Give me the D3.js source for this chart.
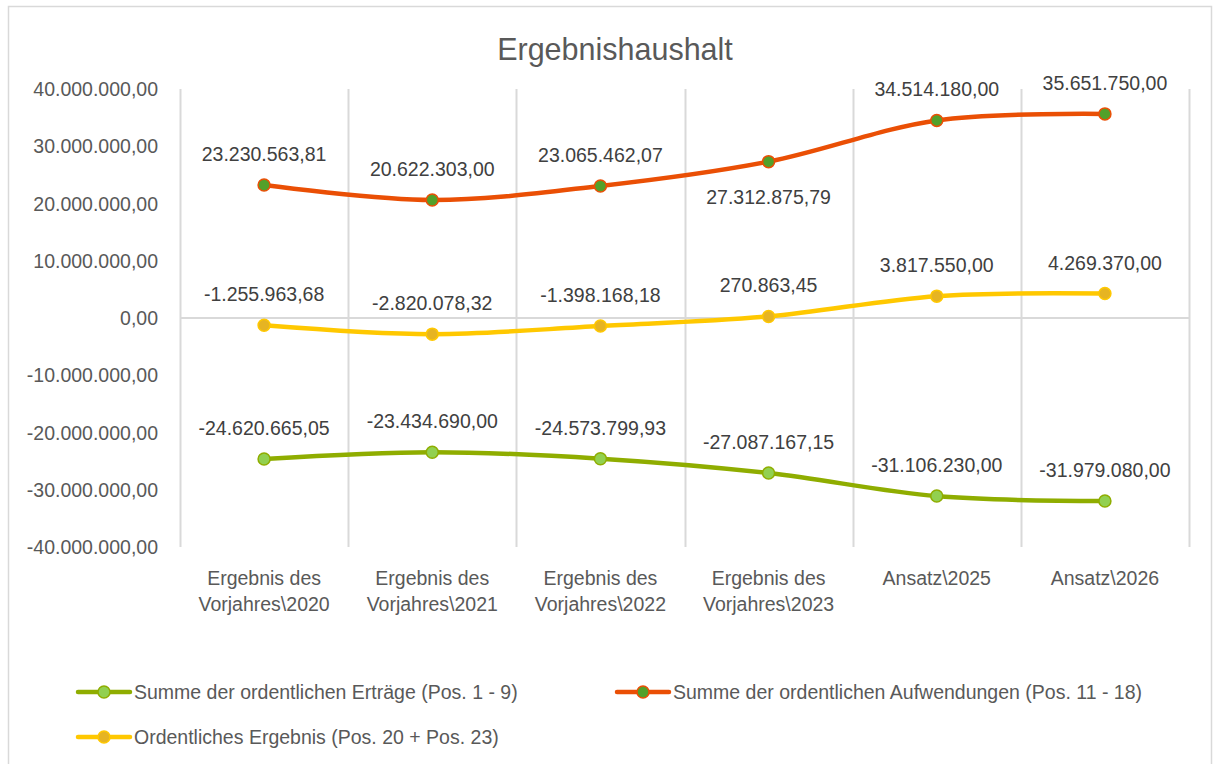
<!DOCTYPE html>
<html lang="de">
<head>
  <meta charset="UTF-8">
  <title>Ergebnishaushalt</title>
  <script src="https://d3js.org/d3.v7.min.js"></script>
</head>
<style>
  body { margin: 0; background: #fff; }
  svg { display: block; font-family: "Liberation Sans", Arial, sans-serif; }
</style>
<body>
<div id="chart"></div>
<script>
  // categories, one entry per line of the axis label
  var categories = [
    ["Ergebnis des", "Vorjahres\\2020"],
    ["Ergebnis des", "Vorjahres\\2021"],
    ["Ergebnis des", "Vorjahres\\2022"],
    ["Ergebnis des", "Vorjahres\\2023"],
    ["Ansatz\\2025"],
    ["Ansatz\\2026"]
  ];
  var yTicks = [40000000, 30000000, 20000000, 10000000, 0, -10000000, -20000000, -30000000, -40000000];

  var ertraege     = [-24620665.05, -23434690.00, -24573799.93, -27087167.15, -31106230.00, -31979080.00];
  var aufwendungen = [23230563.81, 20622303.00, 23065462.07, 27312875.79, 34514180.00, 35651750.00];
  var ergebnis     = [-1255963.68, -2820078.32, -1398168.18, 270863.45, 3817550.00, 4269370.00];

  var seriesNames = [
    "Summe der ordentlichen Erträge (Pos. 1 - 9)",
    "Summe der ordentlichen Aufwendungen (Pos. 11 - 18)",
    "Ordentliches Ergebnis (Pos. 20 + Pos. 23)"
  ];

  var W = 1214, H = 764;
  var FS = 19.5;
  var svg = d3.select('#chart').append('svg').attr('width', W).attr('height', H);

  var de = d3.formatLocale({decimal: ",", thousands: ".", grouping: [3], currency: ["", " €"], minus: "-"});
  var fmt = de.format(",.2f");

  var idx = d3.range(categories.length);
  var x = d3.scaleBand().domain(idx).range([180, 1189]).padding(0);
  var y = d3.scaleLinear().domain([-40000000, 40000000]).range([547, 89]);
  var cx = function (i) { return x(i) + x.bandwidth() / 2; };

  // frame
  svg.append('rect').attr('x', 8.5).attr('y', 6.5).attr('width', 1203).attr('height', 770)
    .attr('fill', '#fff').attr('stroke', '#d9d9d9').attr('stroke-width', 1.5);

  // title
  svg.append('text').attr('x', 615).attr('y', 49).attr('text-anchor', 'middle')
    .attr('dominant-baseline', 'central').attr('fill', '#595959').attr('font-size', 30.5)
    .text('Ergebnishaushalt');

  // vertical gridlines at category borders
  var borders = idx.map(function (i) { return x(i); }).concat([x.range()[1]]);
  svg.append('g').selectAll('line').data(borders).enter().append('line')
    .attr('x1', function (d) { return Math.round(d) + 0.5; })
    .attr('x2', function (d) { return Math.round(d) + 0.5; })
    .attr('y1', y(40000000)).attr('y2', y(-40000000))
    .attr('stroke', '#d9d9d9').attr('stroke-width', 2);

  // zero line
  svg.append('line').attr('x1', 180).attr('x2', 1189).attr('y1', y(0)).attr('y2', y(0))
    .attr('stroke', '#d9d9d9').attr('stroke-width', 2);

  // y tick labels
  svg.append('g').selectAll('text').data(yTicks).enter().append('text')
    .attr('x', 158).attr('y', function (d) { return y(d); })
    .attr('text-anchor', 'end').attr('dominant-baseline', 'central')
    .attr('fill', '#595959').attr('font-size', FS)
    .text(function (d) { return fmt(d); });

  // category labels
  var cat = svg.append('g').selectAll('text').data(categories).enter().append('text')
    .attr('text-anchor', 'middle').attr('fill', '#595959').attr('font-size', FS);
  cat.selectAll('tspan').data(function (d, i) { return d.map(function (t) { return {t: t, i: i}; }); })
    .enter().append('tspan')
    .attr('x', function (d) { return cx(d.i); })
    .attr('y', function (d, j) { return 585 + j * 26; })
    .text(function (d) { return d.t; });

  var series = [
    {name: seriesNames[0], values: ertraege, line: '#8fad00', dotFill: '#92d050', dotStroke: '#8fad00', below: []},
    {name: seriesNames[1], values: aufwendungen, line: '#ea4f05', dotFill: '#52a02a', dotStroke: '#ea4f05', below: [3]},
    {name: seriesNames[2], values: ergebnis, line: '#ffc800', dotFill: '#e6b422', dotStroke: '#ffc800', below: []}
  ];

  var line = d3.line()
    .x(function (d, i) { return cx(i); })
    .y(function (d) { return y(d); })
    .curve(d3.curveCardinal.tension(0));

  series.forEach(function (s) {
    var g = svg.append('g');
    g.append('path').attr('d', line(s.values)).attr('fill', 'none')
      .attr('stroke', s.line).attr('stroke-width', 4.5).attr('stroke-linecap', 'round');
    g.selectAll('circle').data(s.values).enter().append('circle')
      .attr('cx', function (d, i) { return cx(i); })
      .attr('cy', function (d) { return y(d); })
      .attr('r', 6).attr('fill', s.dotFill).attr('stroke', s.dotStroke).attr('stroke-width', 1.5);
  });

  // data labels
  series.forEach(function (s) {
    svg.append('g').selectAll('text').data(s.values).enter().append('text')
      .attr('x', function (d, i) { return cx(i); })
      .attr('y', function (d, i) { return y(d) + (s.below.indexOf(i) >= 0 ? 35 : -31); })
      .attr('text-anchor', 'middle').attr('dominant-baseline', 'central')
      .attr('fill', '#404040').attr('font-size', FS)
      .text(function (d) { return fmt(d); });
  });

  // legend
  var legendItems = [
    {s: series[0], x: 78, y: 692},
    {s: series[1], x: 617, y: 692},
    {s: series[2], x: 78, y: 737}
  ];
  var lg = svg.append('g').selectAll('g').data(legendItems).enter().append('g')
    .attr('transform', function (d) { return 'translate(' + d.x + ',' + d.y + ')'; });
  lg.append('line').attr('x1', 0).attr('x2', 52).attr('y1', 0).attr('y2', 0)
    .attr('stroke', function (d) { return d.s.line; }).attr('stroke-width', 4.5).attr('stroke-linecap', 'round');
  lg.append('circle').attr('cx', 26).attr('cy', 0).attr('r', 6)
    .attr('fill', function (d) { return d.s.dotFill; })
    .attr('stroke', function (d) { return d.s.dotStroke; }).attr('stroke-width', 1.5);
  lg.append('text').attr('x', 56).attr('y', 0).attr('dominant-baseline', 'central')
    .attr('fill', '#595959').attr('font-size', FS)
    .text(function (d) { return d.s.name; });
</script>
</body>
</html>
